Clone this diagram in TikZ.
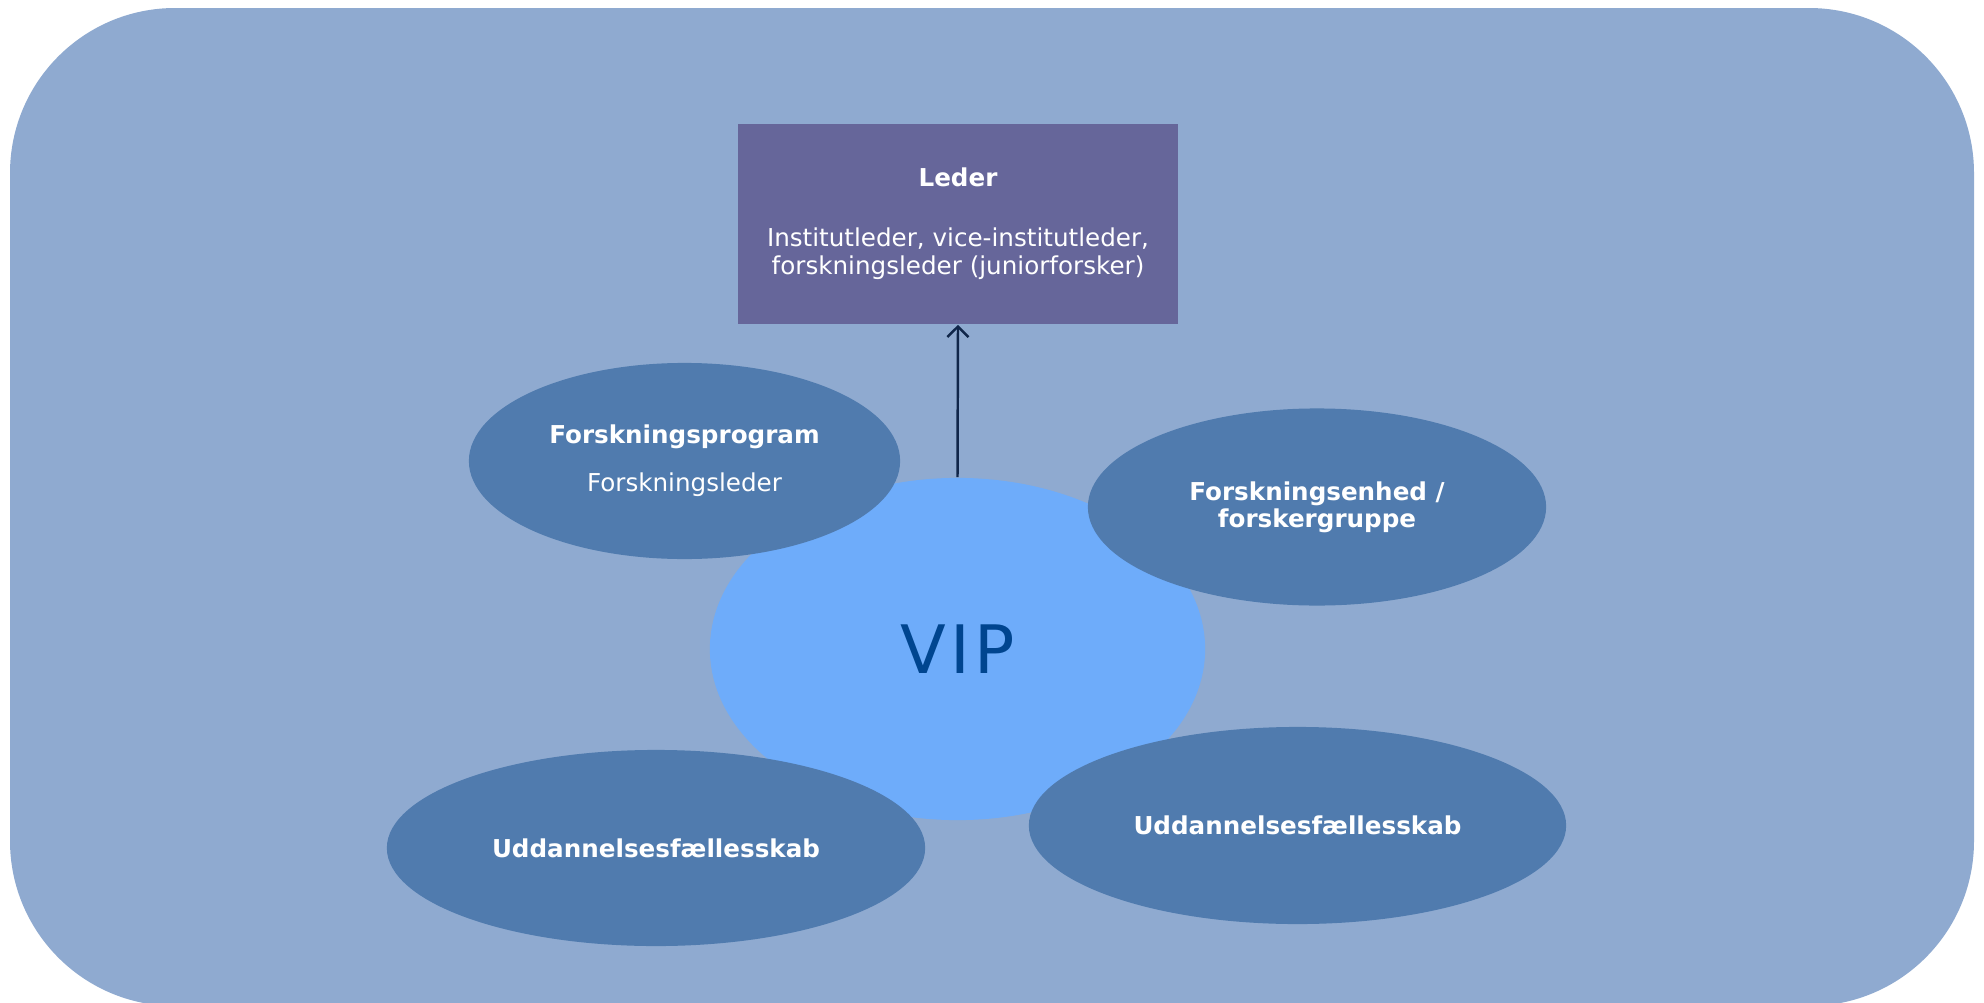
\documentclass[tikz,border=0pt]{standalone}
\usepackage{fontspec}
\setmainfont{DejaVu Sans}
\usetikzlibrary{shapes.geometric,arrows.meta}

\definecolor{bgblue}{RGB}{143,170,208}
\definecolor{boxpurple}{RGB}{102,102,154}
\definecolor{ringblue}{RGB}{80,123,174}
\definecolor{vipblue}{RGB}{110,172,250}
\definecolor{viptext}{RGB}{0,69,143}
\definecolor{arrownavy}{RGB}{16,38,74}

\tikzset{
  unit/.style={ellipse, fill=ringblue, text=white, inner sep=0pt, align=center,
    font=\fontsize{7}{7.6}\selectfont},
}

\begin{document}
\begin{tikzpicture}[x=0.01cm,y=-0.01cm]
  \clip (0,0) rectangle (1984,1003);
  \fill[bgblue, rounded corners=1.65cm] (10,8) rectangle (1974,1006);

  \node[ellipse, fill=vipblue, inner sep=0pt, minimum width=4.95cm, minimum height=3.42cm,
    text=viptext, font=\fontsize{19}{22}\selectfont] (vip) at (957.5,649) {V\kern1.2pt I\kern1.2pt P};

  \node[fill=boxpurple, text=white, inner sep=0pt, minimum width=4.40cm, minimum height=2.00cm,
    align=center, font=\fontsize{7}{8}\selectfont] (lead) at (958,224)
    {\textbf{Leder}\\[9pt]Institutleder, vice-institutleder,\\forskningsleder (juniorforsker)};
  \draw[arrownavy, line width=0.7pt, -{Straight Barb[length=3pt,width=6pt]}] (vip.north) -- (lead.south);

  \node[unit, minimum width=4.31cm, minimum height=1.96cm] (prog) at (684.5,461)
    {\textbf{Forskningsprogram}\\[6pt]Forskningsleder};
  \node[unit, minimum width=4.58cm, minimum height=1.97cm] (enhed) at (1317,507)
    {\textbf{Forskningsenhed /}\\\textbf{forskergruppe}};
  \node[unit, minimum width=5.38cm, minimum height=1.96cm] (uddl) at (656,848)
    {\textbf{Uddannelsesfællesskab}};
  \node[unit, minimum width=5.37cm, minimum height=1.97cm] (uddr) at (1297.5,825.5)
    {\textbf{Uddannelsesfællesskab}};
\end{tikzpicture}
\end{document}
